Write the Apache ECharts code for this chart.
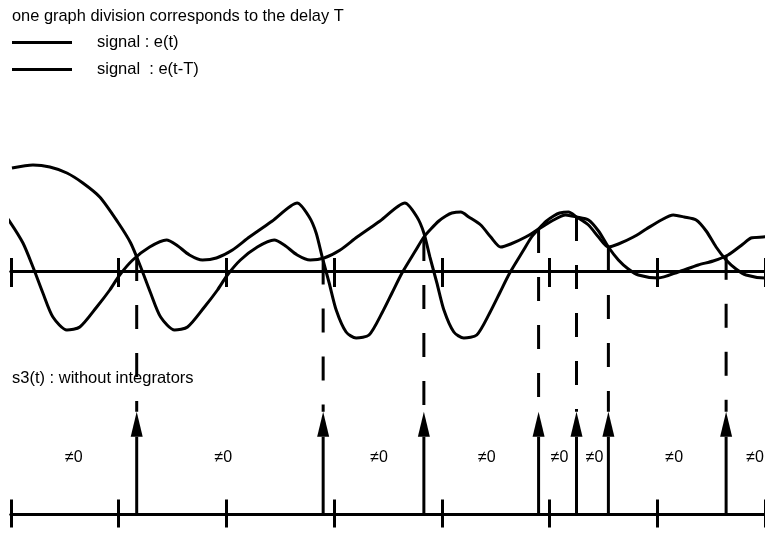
<!DOCTYPE html>
<html>
<head>
<meta charset="utf-8">
<title>e(t), e(t-T) and s3(t)</title>
<script src="https://cdn.jsdelivr.net/npm/echarts@6/dist/echarts.min.js"></script>
<style>
  html, body { margin: 0; padding: 0; background: #ffffff; }
  #chart { width: 765px; height: 535px; }
</style>
</head>
<body>
<div id="chart"></div>
<script>
// Time is measured in graph divisions; one division equals the delay T.
const divisionTicks = [0, 1, 2, 3, 4, 5, 6, 7];
const DELAY = 1;

// Samples of the signal e(t) (time in divisions, amplitude in arbitrary units).
const eTime = [
  -0.991, -0.796, -0.639, -0.481, -0.333, -0.176, -0.009, 0.111, 0.204, 0.296,
  0.389, 0.519, 0.639, 0.796, 0.917, 1.009, 1.130, 1.287, 1.444, 1.537,
  1.657, 1.778, 1.907, 2.056, 2.213, 2.426, 2.657, 2.769, 2.833, 2.889,
  2.954, 3.019, 3.111, 3.204, 3.324, 3.444, 3.537, 3.630, 3.759, 3.833,
  3.898, 3.972, 4.037, 4.093, 4.176, 4.250, 4.361, 4.454, 4.546, 4.639,
  4.778, 4.898, 5.037, 5.148, 5.250, 5.361, 5.454, 5.546, 5.639, 5.731,
  5.824, 6.009, 6.194, 6.380, 6.519, 6.657, 6.796, 6.870, 6.981, 7.120
];
const eValue = [
  1.03, 1.06, 1.04, 0.98, 0.88, 0.74, 0.49, 0.28, 0.04, -0.22,
  -0.46, -0.59, -0.56, -0.36, -0.19, -0.04, 0.11, 0.24, 0.31, 0.26,
  0.16, 0.11, 0.13, 0.21, 0.34, 0.50, 0.68, 0.54, 0.38, 0.14,
  -0.12, -0.39, -0.61, -0.67, -0.64, -0.42, -0.22, -0.02, 0.21, 0.34,
  0.42, 0.50, 0.55, 0.58, 0.59, 0.54, 0.46, 0.34, 0.24, 0.27,
  0.34, 0.42, 0.51, 0.56, 0.54, 0.51, 0.40, 0.24, 0.11, 0.02,
  -0.04, -0.07, -0.01, 0.06, 0.10, 0.16, 0.27, 0.33, 0.34, 0.35
];

// Instants where e(t) = e(t-T): impulses of s3(t).
const impulseTime = [1.167, 2.898, 3.833, 4.898, 5.250, 5.546, 6.639];
const impulseHeight = [1, 1, 1, 1, 1, 1, 1];

// Positions of the "≠0" annotations between impulses.
const nonZeroTime = [0.583, 1.972, 3.417, 4.417, 5.093, 5.417, 6.157, 6.907];
const nonZeroLevel = 0.55;
const nonZeroText = '\u22600';

const FONT = '"Liberation Sans", Arial, Helvetica, sans-serif';
const INK = '#000000';

const eData = eTime.map((t, i) => [t, eValue[i]]);
const eDelayedData = eTime.map((t, i) => [t + DELAY, eValue[i]]);

// Linear reading of e(t) at an arbitrary instant.
function eAt(t) {
  for (let i = 0; i < eTime.length - 1; i++) {
    if (t >= eTime[i] && t <= eTime[i + 1]) {
      const k = (t - eTime[i]) / (eTime[i + 1] - eTime[i]);
      return eValue[i] + k * (eValue[i + 1] - eValue[i]);
    }
  }
  return 0;
}

const xMin = divisionTicks[0];
const xMax = divisionTicks[divisionTicks.length - 1];

// Each time axis is drawn twice, both on the zero line: one copy carries the
// ticks below the line, the other the ticks above it, so the ticks cross it.
function timeAxis(gridIndex, yIndex, position, length) {
  return {
    type: 'value', gridIndex: gridIndex, position: position,
    min: xMin, max: xMax, interval: 1,
    axisLine: { show: true, onZero: true, onZeroAxisIndex: yIndex, lineStyle: { color: INK, width: 3 } },
    axisTick: { show: true, inside: false, length: length, lineStyle: { color: INK, width: 3 } },
    axisLabel: { show: false },
    splitLine: { show: false }
  };
}

const chart = echarts.init(document.getElementById('chart'), null, { renderer: 'canvas' });

chart.setOption({
  animation: false,
  backgroundColor: '#ffffff',
  title: [
    {
      text: 'one graph division corresponds to the delay T',
      left: 12, top: 8, padding: 0,
      textStyle: { fontFamily: FONT, fontSize: 16.4, fontWeight: 'normal', color: INK }
    },
    {
      text: 's3(t) : without integrators',
      left: 12, top: 370, padding: 0,
      textStyle: { fontFamily: FONT, fontSize: 16.5, fontWeight: 'normal', color: INK }
    }
  ],
  legend: {
    orient: 'vertical', left: 12, top: 34, padding: 0,
    itemWidth: 60, itemHeight: 3, itemGap: 10, icon: 'rect',
    selectedMode: false,
    textStyle: { fontFamily: FONT, fontSize: 16.5, color: INK, padding: [0, 0, 0, 20] },
    data: ['signal : e(t)', 'signal  : e(t-T)']
  },
  grid: [
    { left: 11, top: 121, width: 756, height: 250 },
    { left: 11, top: 391.2, width: 756, height: 152.6 }
  ],
  xAxis: [
    timeAxis(0, 0, 'bottom', 16),
    timeAxis(1, 1, 'bottom', 13),
    timeAxis(0, 2, 'top', 13),
    timeAxis(1, 3, 'top', 15)
  ],
  yAxis: [
    { type: 'value', gridIndex: 0, min: -1, max: 1.5, show: false },
    { type: 'value', gridIndex: 1, min: -0.2, max: 1.2, show: false },
    { type: 'value', gridIndex: 0, min: -1, max: 1.5, show: false },
    { type: 'value', gridIndex: 1, min: -0.2, max: 1.2, show: false }
  ],
  series: [
    {
      name: 'signal : e(t)', type: 'line', xAxisIndex: 0, yAxisIndex: 0,
      data: eData, showSymbol: false, smooth: 0.25,
      itemStyle: { color: INK }, lineStyle: { color: INK, width: 3 }
    },
    {
      name: 'signal  : e(t-T)', type: 'line', xAxisIndex: 0, yAxisIndex: 0,
      data: eDelayedData, showSymbol: false, smooth: 0.25,
      itemStyle: { color: INK }, lineStyle: { color: INK, width: 3 }
    },
    {
      name: 's3(t)', type: 'custom', xAxisIndex: 1, yAxisIndex: 1,
      data: impulseTime.map((t, i) => [t, impulseHeight[i]]),
      renderItem: function (params, api) {
        const base = api.coord([api.value(0), 0]);
        const tip = api.coord([api.value(0), api.value(1)]);
        const headLen = 25, headHalf = 6;
        return {
          type: 'group',
          children: [
            {
              type: 'line',
              shape: { x1: base[0], y1: base[1], x2: tip[0], y2: tip[1] + headLen },
              style: { stroke: INK, lineWidth: 3 }
            },
            {
              type: 'polygon',
              shape: { points: [[tip[0], tip[1]], [tip[0] - headHalf, tip[1] + headLen], [tip[0] + headHalf, tip[1] + headLen]] },
              style: { fill: INK }
            }
          ]
        };
      }
    },
    {
      name: 'nonzero', type: 'custom', xAxisIndex: 1, yAxisIndex: 1,
      data: nonZeroTime.map(t => [t, nonZeroLevel]),
      renderItem: function (params, api) {
        const p = api.coord([api.value(0), api.value(1)]);
        return {
          type: 'text',
          x: p[0], y: p[1],
          style: { text: nonZeroText, font: '16px ' + FONT, fill: INK, align: 'center', verticalAlign: 'middle' }
        };
      }
    }
  ]
});

// Dashed projections from each crossing of e(t) and e(t-T) down to its impulse.
const dashed = impulseTime.map((t, i) => {
  const top = chart.convertToPixel({ xAxisIndex: 0, yAxisIndex: 0 }, [t, eAt(t)]);
  const bottom = chart.convertToPixel({ xAxisIndex: 1, yAxisIndex: 1 }, [t, impulseHeight[i]]);
  return {
    type: 'line', z: 100,
    shape: { x1: top[0], y1: top[1], x2: bottom[0], y2: bottom[1] },
    style: { stroke: INK, lineWidth: 3, lineDash: [24, 24] }
  };
});
chart.setOption({ graphic: dashed });
</script>
</body>
</html>
